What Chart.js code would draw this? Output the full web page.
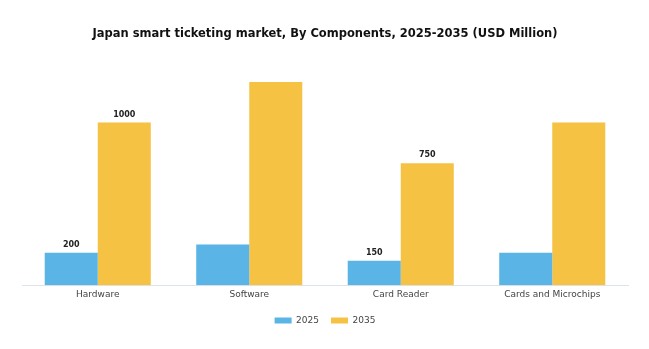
<!DOCTYPE html>
<html lang="en">
<head>
    <meta charset="UTF-8">
    <title>Japan smart ticketing market, By Components</title>
    <script src="https://cdn.jsdelivr.net/npm/chart.js"></script>
    <style>
        body {
            margin: 0;
            padding: 0;
            background-color: white;
        }
        #wrap {
            width: 649px;
            height: 349px;
        }
    </style>
</head>
<body>
    <div id="wrap"><canvas id="marketChart"></canvas></div>
    <script>
        const categories = ['Hardware', 'Software', 'Card Reader', 'Cards and Microchips'];
        const years = ['2025', '2035'];
        const values2025 = [200, 250, 150, 200];
        const values2035 = [1000, 1250, 750, 1000];
        // only some bars carry a value label in the original
        const labels2025 = ['200', '', '150', ''];
        const labels2035 = ['1000', '', '750', ''];

        const barLabels = {
            id: 'barLabels',
            afterDatasetsDraw(chart) {
                const ctx = chart.ctx;
                const all = [labels2025, labels2035];
                ctx.save();
                ctx.font = 'bold 8px "DejaVu Sans"';
                ctx.fillStyle = '#222';
                ctx.textAlign = 'center';
                ctx.textBaseline = 'bottom';
                chart.data.datasets.forEach((ds, i) => {
                    chart.getDatasetMeta(i).data.forEach((bar, j) => {
                        const txt = all[i][j];
                        if (txt) ctx.fillText(txt, bar.x, bar.y - 4);
                    });
                });
                ctx.restore();
            }
        };

        new Chart(document.getElementById('marketChart'), {
            type: 'bar',
            data: {
                labels: categories,
                datasets: [
                    {
                        label: years[0],
                        data: values2025,
                        backgroundColor: '#5BB4E6'
                    },
                    {
                        label: years[1],
                        data: values2035,
                        backgroundColor: '#F6C243'
                    }
                ]
            },
            options: {
                responsive: true,
                maintainAspectRatio: false,
                animation: false,
                layout: {
                    padding: { left: 22, right: 21, bottom: 14 }
                },
                datasets: {
                    bar: {
                        categoryPercentage: 0.7,
                        barPercentage: 1.0
                    }
                },
                scales: {
                    x: {
                        grid: { display: false, drawTicks: false },
                        border: { color: '#dde3ea' },
                        ticks: {
                            color: '#444',
                            font: { family: 'DejaVu Sans', size: 9 },
                            padding: 4
                        }
                    },
                    y: {
                        display: false,
                        min: 0,
                        max: 1300
                    }
                },
                plugins: {
                    title: {
                        display: true,
                        text: 'Japan smart ticketing market, By Components, 2025-2035 (USD Million)',
                        color: '#111',
                        font: { family: 'DejaVu Sans', size: 11.5, weight: 'bold' },
                        padding: { top: 27, bottom: 33 }
                    },
                    legend: {
                        position: 'bottom',
                        labels: {
                            boxWidth: 17,
                            boxHeight: 6,
                            color: '#444',
                            font: { family: 'DejaVu Sans', size: 9 },
                            padding: 12
                        }
                    },
                    tooltip: { enabled: false }
                }
            },
            plugins: [barLabels]
        });
    </script>
</body>
</html>
